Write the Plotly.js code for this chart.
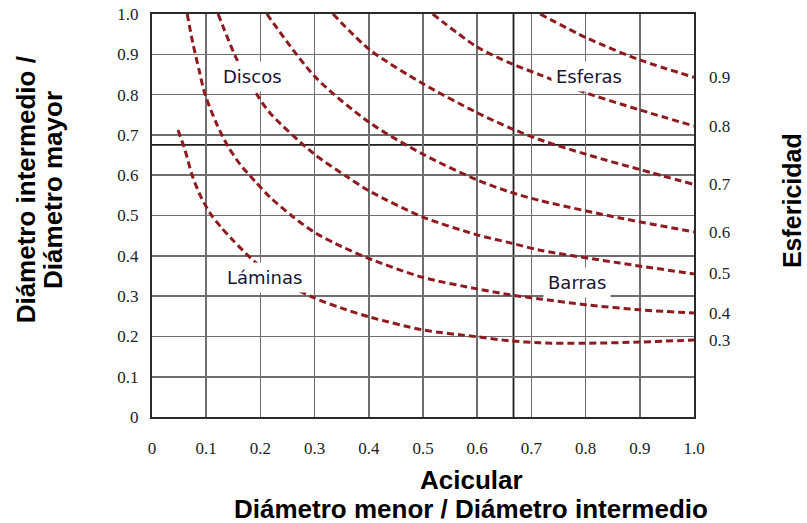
<!DOCTYPE html>
<html>
<head>
<meta charset="utf-8">
<script src="https://cdn.plot.ly/plotly-3.0.1.min.js"></script>
<style>html,body{margin:0;padding:0;background:#fff;}#chart{width:807px;height:523px;}</style>
</head>
<body>
<div id="chart"></div>
<script>
// ---- data ----
const tickVals = [0, 0.1, 0.2, 0.3, 0.4, 0.5, 0.6, 0.7, 0.8, 0.9, 1.0];
const tickText = ['0', '0.1', '0.2', '0.3', '0.4', '0.5', '0.6', '0.7', '0.8', '0.9', '1.0'];

const sphericityLabels = ['0.9', '0.8', '0.7', '0.6', '0.5', '0.4', '0.3'];

const c09x = [0.716, 0.803, 0.900, 1.0];
const c09y = [1.0, 0.940, 0.886, 0.843];

const c08x = [0.518, 0.600, 0.661, 0.716, 0.786, 0.900, 1.0];
const c08y = [1.0, 0.918, 0.878, 0.849, 0.811, 0.762, 0.722];

const c07x = [0.334, 0.402, 0.5, 0.6, 0.661, 0.716, 0.803, 0.9, 1.0];
const c07y = [1.0, 0.911, 0.827, 0.755, 0.717, 0.688, 0.651, 0.614, 0.577];

const c06x = [0.212, 0.301, 0.402, 0.5, 0.6, 0.661, 0.716, 0.863, 1.0];
const c06y = [1.0, 0.844, 0.730, 0.652, 0.588, 0.558, 0.537, 0.494, 0.459];

const c05x = [0.122, 0.157, 0.194, 0.218, 0.297, 0.360, 0.402, 0.5, 0.6, 0.661, 0.716, 0.863, 1.0];
const c05y = [1.0, 0.886, 0.799, 0.754, 0.655, 0.596, 0.560, 0.496, 0.452, 0.432, 0.414, 0.382, 0.355];

const c04x = [0.065, 0.075, 0.087, 0.098, 0.12, 0.14, 0.162, 0.19, 0.218, 0.26, 0.301, 0.35, 0.397, 0.498, 0.6, 0.661, 0.716, 0.803, 0.9, 1.0];
const c04y = [1.0, 0.93, 0.86, 0.80, 0.725, 0.672, 0.628, 0.585, 0.545, 0.497, 0.457, 0.423, 0.395, 0.347, 0.318, 0.303, 0.293, 0.278, 0.266, 0.258];

const c03x = [0.048, 0.061, 0.074, 0.089, 0.107, 0.128, 0.149, 0.19, 0.24, 0.295, 0.35, 0.402, 0.5, 0.6, 0.661, 0.716, 0.8, 0.9, 1.0];
const c03y = [0.712, 0.662, 0.600, 0.550, 0.506, 0.470, 0.439, 0.385, 0.337, 0.298, 0.270, 0.248, 0.216, 0.199, 0.189, 0.184, 0.183, 0.186, 0.191];

const curvesX = [c09x, c08x, c07x, c06x, c05x, c04x, c03x];
const curvesY = [c09y, c08y, c07y, c06y, c05y, c04y, c03y];

const regionNames = ['Discos', 'Esferas', 'Láminas', 'Barras'];
const regionX = [0.186, 0.806, 0.208, 0.784];
const regionY = [0.846, 0.846, 0.345, 0.335];

const refX = 0.667;   // vertical division line
const refY = 0.675;   // horizontal division line

// ---- chart ----
const curveColor = '#8e1b1f';
const traces = curvesX.map((xs, i) => ({
  x: xs, y: curvesY[i], type: 'scatter', mode: 'lines',
  line: {color: curveColor, width: 3, dash: '7px,4px', shape: 'spline', smoothing: 0.8},
  hoverinfo: 'skip', name: sphericityLabels[i]
}));

const tickFont = {family: 'Liberation Serif, Times New Roman, serif', size: 17, color: '#222'};
const titleFont = {family: 'Liberation Sans, Arial, sans-serif', size: 26, color: '#000', weight: 'bold'};

const annotations = [];
regionNames.forEach((t, i) => annotations.push({
  text: t, x: regionX[i], y: regionY[i], xref: 'x', yref: 'y', showarrow: false,
  font: {family: 'DejaVu Sans, sans-serif', size: 18, color: '#16163a'},
  bgcolor: '#ffffff', borderpad: 4, xanchor: 'center', yanchor: 'middle'
}));
curvesY.forEach((ys, i) => annotations.push({
  text: sphericityLabels[i], x: 1.024, y: ys[ys.length - 1], xref: 'paper', yref: 'y',
  showarrow: false, font: tickFont, xanchor: 'left', yanchor: 'middle'
}));
annotations.push({text: 'Diámetro intermedio /', x: -0.232, y: 0.563, xref: 'paper', yref: 'paper',
  textangle: -90, showarrow: false, font: titleFont, xanchor: 'center', yanchor: 'middle'});
annotations.push({text: 'Diámetro mayor', x: -0.183, y: 0.563, xref: 'paper', yref: 'paper',
  textangle: -90, showarrow: false, font: titleFont, xanchor: 'center', yanchor: 'middle'});
annotations.push({text: 'Esfericidad', x: 1.181, y: 0.536, xref: 'paper', yref: 'paper',
  textangle: -90, showarrow: false, font: Object.assign({}, titleFont, {size: 25}), xanchor: 'center', yanchor: 'middle'});
annotations.push({text: 'Acicular', x: 0.5886, y: -0.157, xref: 'paper', yref: 'paper',
  showarrow: false, font: titleFont, xanchor: 'center', yanchor: 'middle'});
annotations.push({text: 'Diámetro menor / Diámetro intermedio', x: 0.5886, y: -0.228, xref: 'paper', yref: 'paper',
  showarrow: false, font: titleFont, xanchor: 'center', yanchor: 'middle'});

const axisCommon = {
  range: [0, 1], tickvals: tickVals, ticktext: tickText, ticks: '',
  showgrid: true, gridcolor: '#6e6e6e', gridwidth: 1.6, zeroline: false,
  showline: true, linecolor: '#2a2a2a', linewidth: 2.2, mirror: true,
  tickfont: tickFont, fixedrange: true
};

const layout = {
  width: 807, height: 523,
  margin: {l: 152, r: 113, t: 14, b: 106},
  paper_bgcolor: '#fff', plot_bgcolor: '#fff',
  showlegend: false,
  xaxis: Object.assign({}, axisCommon, {ticklabelstandoff: 14}),
  yaxis: Object.assign({}, axisCommon, {ticklabelstandoff: 8}),
  shapes: [
    {type: 'line', xref: 'x', yref: 'y', x0: refX, x1: refX, y0: 0, y1: 1, line: {color: '#1e1e1e', width: 1.8}, layer: 'below'},
    {type: 'line', xref: 'x', yref: 'y', x0: 0, x1: 1, y0: refY, y1: refY, line: {color: '#1e1e1e', width: 1.8}, layer: 'below'}
  ],
  annotations: annotations
};

Plotly.newPlot('chart', traces, layout, {staticPlot: true, displayModeBar: false});
</script>
</body>
</html>
